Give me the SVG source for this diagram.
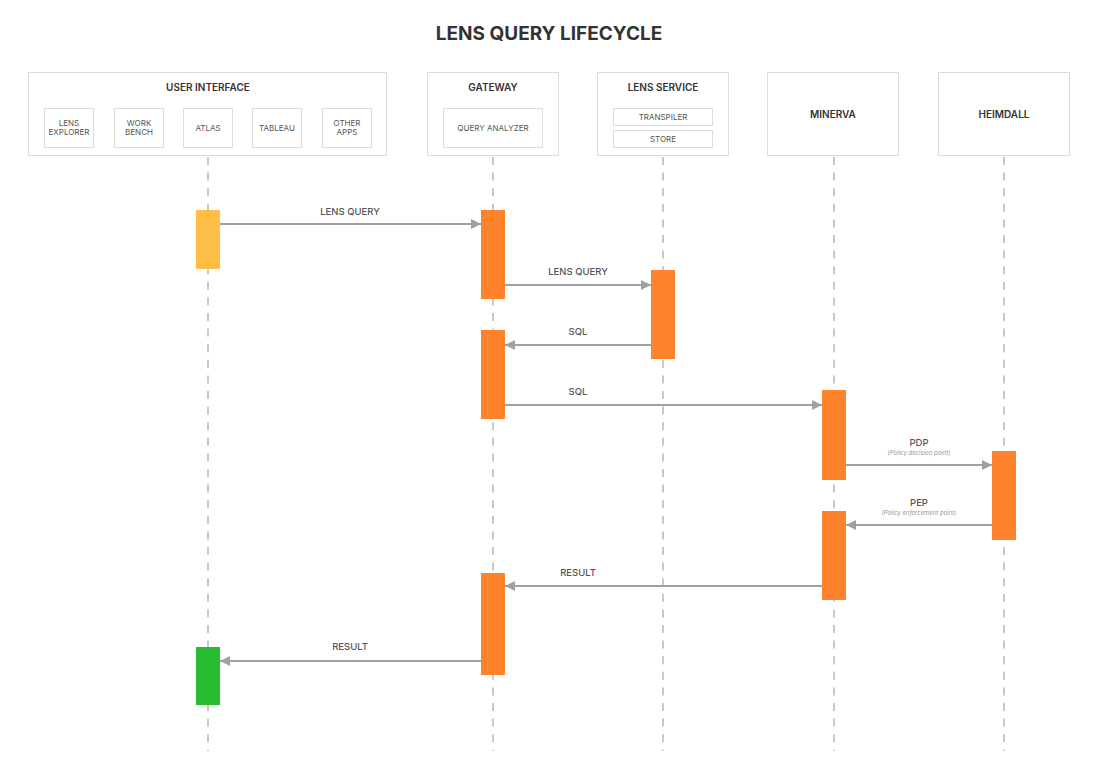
<svg xmlns="http://www.w3.org/2000/svg" width="1099" height="773" viewBox="0 0 1099 773">
<defs>
<style>
.box{fill:#fff;stroke:#dcdcdc;stroke-width:1}
.hdr{font-family:Inter,"Liberation Sans",sans-serif;font-size:10px;font-weight:600;fill:#333;text-anchor:middle}
.sub{font-family:Inter,"Liberation Sans",sans-serif;font-size:8px;fill:#555;text-anchor:middle}
.life{stroke:#c8c8c8;stroke-width:2;stroke-dasharray:8 7.6;fill:none}
.msg{stroke:#a0a0a0;stroke-width:2;fill:none}
.lbl{font-family:Inter,"Liberation Sans",sans-serif;font-size:9.5px;font-weight:500;fill:#555;text-anchor:middle}
.note{font-family:Inter,"Liberation Sans",sans-serif;font-size:6px;font-style:italic;fill:#999;text-anchor:middle}
.act{fill:#ff832c}
</style>
<marker id="ah" viewBox="0 0 10 10" refX="10" refY="5" markerWidth="10" markerHeight="10" markerUnits="userSpaceOnUse" orient="auto">
<path d="M0,0 L10,5 L0,10 Z" fill="#a0a0a0"/>
</marker>
</defs>
<rect width="1099" height="773" fill="#fff"/>
<text x="549" y="40" font-family="Inter,'Liberation Sans',sans-serif" font-size="19" font-weight="700" fill="#333" text-anchor="middle">LENS QUERY LIFECYCLE</text>

<g id="lifelines">
<line class="life" x1="208" y1="157" x2="208" y2="751"/>
<line class="life" x1="493" y1="157" x2="493" y2="751"/>
<line class="life" x1="663" y1="157" x2="663" y2="751"/>
<line class="life" x1="834" y1="157" x2="834" y2="751"/>
<line class="life" x1="1004" y1="157" x2="1004" y2="751"/>
</g>

<g id="user-interface">
<rect class="box" x="28.5" y="72.5" width="358" height="83"/>
<text class="hdr" x="208" y="91">USER INTERFACE</text>
<rect class="box" x="44.5" y="108.5" width="49" height="39"/>
<text class="sub" x="69" y="126">LENS</text>
<text class="sub" x="69" y="135">EXPLORER</text>
<rect class="box" x="114.5" y="108.5" width="49" height="39"/>
<text class="sub" x="139" y="126">WORK</text>
<text class="sub" x="139" y="135">BENCH</text>
<rect class="box" x="183.5" y="108.5" width="49" height="39"/>
<text class="sub" x="208" y="131">ATLAS</text>
<rect class="box" x="252.5" y="108.5" width="49" height="39"/>
<text class="sub" x="277" y="131">TABLEAU</text>
<rect class="box" x="322.5" y="108.5" width="49" height="39"/>
<text class="sub" x="347" y="126">OTHER</text>
<text class="sub" x="347" y="135">APPS</text>
</g>

<g id="gateway">
<rect class="box" x="427.5" y="72.5" width="131" height="83"/>
<text class="hdr" x="493" y="91">GATEWAY</text>
<rect class="box" x="443.5" y="108.5" width="99" height="39"/>
<text class="sub" x="493" y="131">QUERY ANALYZER</text>
</g>

<g id="lens-service">
<rect class="box" x="597.5" y="72.5" width="131" height="83"/>
<text class="hdr" x="663" y="91">LENS SERVICE</text>
<rect class="box" x="613.5" y="108.5" width="99" height="17"/>
<text class="sub" x="663" y="120">TRANSPILER</text>
<rect class="box" x="613.5" y="130.5" width="99" height="17"/>
<text class="sub" x="663" y="142">STORE</text>
</g>

<g id="minerva">
<rect class="box" x="767.5" y="72.5" width="131" height="83"/>
<text class="hdr" x="833" y="118">MINERVA</text>
</g>

<g id="heimdall">
<rect class="box" x="938.5" y="72.5" width="131" height="83"/>
<text class="hdr" x="1004" y="118">HEIMDALL</text>
</g>

<g id="activations">
<rect x="196" y="210" width="24" height="59" fill="#ffbe45"/>
<rect class="act" x="481" y="210" width="24" height="89"/>
<rect class="act" x="651" y="270" width="24" height="89"/>
<rect class="act" x="481" y="330" width="24" height="89"/>
<rect class="act" x="822" y="390" width="24" height="90"/>
<rect class="act" x="992" y="451" width="24" height="89"/>
<rect class="act" x="822" y="511" width="24" height="89"/>
<rect class="act" x="481" y="573" width="24" height="102"/>
<rect x="196" y="647" width="24" height="58" fill="#27bd31"/>
</g>

<g id="connectors">
<line class="msg" x1="220" y1="224" x2="481" y2="224" marker-end="url(#ah)"/>
<text class="lbl" x="350" y="215">LENS QUERY</text>
<line class="msg" x1="505" y1="285" x2="651" y2="285" marker-end="url(#ah)"/>
<text class="lbl" x="578" y="275">LENS QUERY</text>
<line class="msg" x1="651" y1="345" x2="505" y2="345" marker-end="url(#ah)"/>
<text class="lbl" x="578" y="335">SQL</text>
<line class="msg" x1="505" y1="405" x2="822" y2="405" marker-end="url(#ah)"/>
<text class="lbl" x="578" y="395">SQL</text>
<line class="msg" x1="846" y1="465" x2="992" y2="465" marker-end="url(#ah)"/>
<text class="lbl" x="919" y="446">PDP</text>
<text class="note" x="919" y="455">(Policy decision point)</text>
<line class="msg" x1="992" y1="525" x2="846" y2="525" marker-end="url(#ah)"/>
<text class="lbl" x="919" y="506">PEP</text>
<text class="note" x="919" y="515">(Policy enforcement point)</text>
<line class="msg" x1="822" y1="586" x2="505" y2="586" marker-end="url(#ah)"/>
<text class="lbl" x="578" y="576">RESULT</text>
<line class="msg" x1="481" y1="661" x2="220" y2="661" marker-end="url(#ah)"/>
<text class="lbl" x="350" y="650">RESULT</text>
</g>
</svg>
